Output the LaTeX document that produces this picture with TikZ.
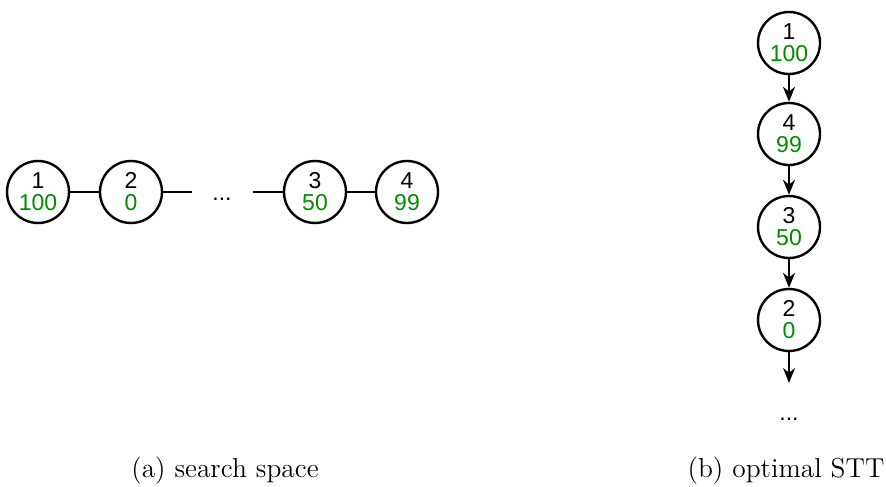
\documentclass[tikz,border=0pt]{standalone}
\usepackage{fontspec}
\usetikzlibrary{arrows.meta}
\newfontfamily\nodefont{Liberation Sans}
\definecolor{valgreen}{RGB}{0,140,0}

\tikzset{
  numfont/.style={font=\nodefont\fontsize{11.5}{11}\selectfont},
  state/.style={circle, draw, line width=1.2pt, minimum size=31pt, inner sep=0pt,
                align=center, numfont},
  link/.style={line width=1.2pt},
  tree/.style={line width=1.2pt, -{Stealth[length=7.5pt,width=6pt]}},
  caption/.style={font=\fontsize{13.7}{16}\selectfont},
}
\newcommand{\val}[2]{#1\\\textcolor{valgreen}{#2}}

\begin{document}
\begin{tikzpicture}[x=0.5pt, y=-0.5pt]
\useasboundingbox (0,0) rectangle (886,486);
% search space
\node[state] (a1) at ( 38,192) {\val{1}{100}};
\node[state] (a2) at (131,192) {\val{2}{0}};
\node[state] (a3) at (315,192) {\val{3}{50}};
\node[state] (a4) at (407,192) {\val{4}{99}};
\coordinate (aL) at (192,192);
\coordinate (aR) at (253,192);
\node[numfont] (adots) at (222,199) {...};
\draw[link] (a1) -- (a2);
\draw[link] (a2) -- (aL);
\draw[link] (aR) -- (a3);
\draw[link] (a3) -- (a4);
\node[caption] (capa) at (225,471) {(a) search space};
% optimal STT
\node[state] (b1) at (789, 43) {\val{1}{100}};
\node[state] (b4) at (789,134) {\val{4}{99}};
\node[state] (b3) at (789,227) {\val{3}{50}};
\node[state] (b2) at (789,320) {\val{2}{0}};
\coordinate (bend) at (789,383);
\node[numfont] (bdots) at (789,419) {...};
\draw[tree] (b1) -- (b4);
\draw[tree] (b4) -- (b3);
\draw[tree] (b3) -- (b2);
\draw[tree] (b2) -- (bend);
\node[caption] (capb) at (786,471) {(b) optimal STT};
\end{tikzpicture}
\end{document}
